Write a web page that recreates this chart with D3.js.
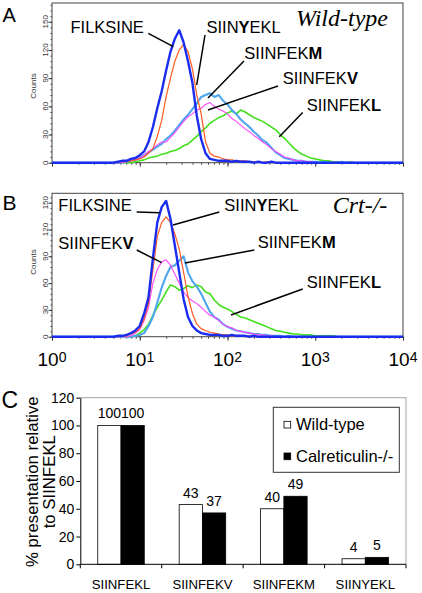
<!DOCTYPE html>
<html><head><meta charset="utf-8">
<script src="https://cdn.jsdelivr.net/npm/d3@7"></script>
<style>body{margin:0;background:#fff}svg{display:block}</style>
</head><body><svg id="c" width="422" height="593"></svg>
<script>
// ---------- DATA ----------
// histogram bin positions (log10 of fluorescence)
const binLog = [0,
 0.5,0.55,0.6,0.65,0.7,0.75,0.8,0.85,0.9,0.95,
 1.0,1.05,1.1,1.15,1.2,1.25,1.3,1.35,1.4,1.45,
 1.5,1.55,1.6,1.65,1.7,1.75,1.8,1.85,1.9,1.95,
 2.0,2.05,2.1,2.15,2.2,2.25,2.3,2.35,2.4,2.45,
 2.5,2.55,2.6,2.65,2.7,2.75,2.8,2.85,2.9,2.95,
 3.0,3.05,3.1,3.15,3.2,3.25,3.3,3.35,3.4,3.45,
 3.5, 4];

// Panel A: wild-type counts
const wtFILKSINE = [0,
 0,0,0,0,0,1,2,2,4,5,
 8,12,22,38,58,76,98,118,132,141,
 128,108,85,50,25,10,4,3,2,2,
 2,1,2,1,1,1,0,1,0,0,
 1,0,0,0,0,0,0,0,0,0,
 0,0,0,0,0,0,0,0,0,0,
 0,0];
const wtSIINYEKL = [0,
 0,0,0,0,0,0,1,1,2,3,
 4,6,10,15,28,45,70,90,108,120,
 126,118,100,72,52,22,10,7,6,4,
 3,3,2,2,2,1,1,1,0,1,
 0,0,0,0,0,0,0,0,0,0,
 0,0,0,0,0,0,0,0,0,0,
 0,0];
const wtSIINFEKM = [0,
 0,0,0,0,0,0,0,1,2,3,
 5,8,11,14,17,20,25,29,34,40,
 46,51,57,63,70,72,74,70,72,66,
 62,56,52,46,42,38,33,29,24,21,
 16,11,8,5,4,3,2,2,1,1,
 1,0,1,0,0,0,1,0,0,0,
 0,0];
const wtSIINFEKV = [0,
 0,0,0,0,0,0,0,1,2,3,
 5,8,12,15,19,22,22,27,32,38,
 44,49,52,56,58,62,64,60,57,55,
 52,47,44,40,36,33,29,26,22,19,
 15,12,9,6,5,3,2,2,1,1,
 0,0,0,0,0,0,0,0,0,0,
 0,0];
const wtSIINFEKL = [0,
 0,0,0,0,0,0,0,0,0,1,
 2,3,5,6,7,9,10,12,13,15,
 18,20,24,28,33,37,42,45,48,50,
 53,55,52,56,54,51,48,46,44,41,
 38,35,30,26,21,16,12,9,7,5,
 4,3,2,2,1,1,1,0,1,0,
 0,0];

// Panel B: Crt-/- counts
const crtFILKSINE = [0,
 0,0,0,0,0,1,1,2,4,7,
 12,26,44,88,128,145,152,132,102,72,
 42,22,12,7,4,3,2,2,2,1,
 1,2,1,1,1,0,1,0,0,0,
 0,0,0,0,0,0,0,0,0,0,
 0,0,0,0,0,0,0,0,0,0,
 0,0];
const crtSIINYEKL = [0,
 0,0,0,0,0,0,1,1,3,5,
 9,20,38,75,112,128,134,128,115,98,
 72,45,26,14,9,7,5,4,3,2,
 2,1,1,1,0,1,0,0,0,0,
 0,0,0,0,0,0,0,0,0,0,
 0,0,0,0,0,0,0,0,0,0,
 0,0];
const crtSIINFEKM = [0,
 0,0,0,0,0,0,0,0,0,1,
 2,4,12,22,38,55,68,78,80,85,
 90,72,62,56,48,38,28,22,19,14,
 11,9,7,6,5,4,3,3,2,2,
 1,1,1,0,1,0,0,0,0,0,
 0,0,0,0,0,0,0,0,0,0,
 0,0];
const crtSIINFEKV = [0,
 0,0,0,0,0,0,0,0,1,4,
 8,18,33,60,75,84,86,80,70,60,
 50,44,40,37,33,28,24,22,18,14,
 11,10,7,6,5,4,3,2,2,1,
 1,0,0,0,0,0,0,0,0,0,
 0,0,0,0,0,0,0,0,0,0,
 0,0];
const crtSIINFEKL = [0,
 0,0,0,0,0,0,0,0,0,1,
 4,8,14,24,33,41,50,58,56,52,
 54,57,55,58,56,50,48,41,36,33,
 31,28,25,22,21,19,17,15,13,11,
 9,7,6,5,4,3,3,2,2,2,
 1,1,1,1,1,0,0,0,0,0,
 0,0];

const countTicks = [0, 30, 60, 90, 120, 150];
const decadeExponents = ["0", "1", "2", "3", "4"];

// Panel C
const barCategories = ["SIINFEKL", "SIINFEKV", "SIINFEKM", "SIINYEKL"];
const barWildType = [100, 43, 40, 4];
const barCalreticulin = [100, 37, 49, 5];
const barSeries = ["Wild-type", "Calreticulin-/-"];
const barTicks = [0, 20, 40, 60, 80, 100, 120];

// ---------- DRAW ----------
const SANS = "'Liberation Sans', Arial, Helvetica, sans-serif";
const SERIF = "'Liberation Serif', 'Times New Roman', serif";
const svg = d3.select("#c");
svg.append("rect").attr("width", 422).attr("height", 593).attr("fill", "#fff");

const colors = {
  SIINFEKL: "#44de1e",
  SIINFEKM: "#4ea6ee",
  SIINFEKV: "#ff45ff",
  SIINYEKL: "#ff5a22",
  FILKSINE: "#1a2cee"
};
const widths = {SIINFEKL: 1.6, SIINFEKM: 2.1, SIINFEKV: 1.1, SIINYEKL: 1.2, FILKSINE: 2.4};
const drawOrder = ["SIINFEKL", "SIINFEKM", "SIINFEKV", "SIINYEKL", "FILKSINE"];

function boldLabel(g, x, y, pre, bold, post) {
  const t = g.append("text").attr("x", x).attr("y", y)
    .attr("font-family", SANS).attr("font-size", 16.5).attr("fill", "#000");
  t.append("tspan").text(pre);
  t.append("tspan").attr("font-weight", "bold").text(bold);
  if (post) t.append("tspan").text(post);
}
function leader(g, x1, y1, x2, y2) {
  g.append("line").attr("x1", x1).attr("y1", y1).attr("x2", x2).attr("y2", y2)
    .attr("stroke", "#000").attr("stroke-width", 1.5);
}

function histPanel(cfg) {
  const x = d3.scaleLog().domain([1, 1e4]).range([52, 403]);
  const y = d3.scaleLinear().domain([0, cfg.yMax]).range([cfg.y0, cfg.yTop]);
  const g = svg.append("g");

  // minor y ticks
  g.append("g").attr("transform", "translate(52,0)")
    .call(d3.axisLeft(y).tickValues(d3.range(0, cfg.yMax, 6)).tickSize(1.5).tickFormat(""))
    .call(s => s.select(".domain").remove())
    .call(s => s.selectAll("line").attr("stroke", "#444"));
  // major y ticks
  g.append("g").attr("transform", "translate(52,0)")
    .call(d3.axisLeft(y).tickValues(countTicks).tickSize(3.5).tickFormat(""))
    .call(s => s.select(".domain").remove())
    .call(s => s.selectAll("line").attr("stroke", "#333"));
  g.selectAll("text.yt").data(countTicks).join("text")
    .attr("transform", d => `translate(48,${y(d)}) rotate(-90)`)
    .attr("text-anchor", "middle").attr("font-family", SANS).attr("font-size", 8)
    .attr("fill", "#333").text(d => d);
  g.append("text").attr("transform", `translate(36,${cfg.countsY}) rotate(-90)`)
    .attr("text-anchor", "middle").attr("font-family", SANS).attr("font-size", 8)
    .attr("fill", "#333").text("Counts");

  // x ticks (log)
  const allTicks = x.ticks();
  const majors = allTicks.filter(v => Math.abs(Math.log10(v) - Math.round(Math.log10(v))) < 1e-9);
  g.append("g").attr("transform", `translate(0,${cfg.y0})`)
    .call(d3.axisBottom(x).tickValues(allTicks).tickSize(2).tickFormat(""))
    .call(s => s.select(".domain").remove())
    .call(s => s.selectAll("line").attr("stroke", "#444"));
  g.append("g").attr("transform", `translate(0,${cfg.y0})`)
    .call(d3.axisBottom(x).tickValues(majors).tickSize(4).tickFormat(""))
    .call(s => s.select(".domain").remove())
    .call(s => s.selectAll("line").attr("stroke", "#333"));

  // frame
  g.append("rect").attr("x", 52).attr("y", cfg.yTop).attr("width", 351)
    .attr("height", cfg.y0 - cfg.yTop).attr("fill", "none").attr("stroke", "#444").attr("stroke-width", 1);

  // curves
  const line = d3.line().x(d => x(Math.pow(10, d[0]))).y(d => y(d[1]));
  drawOrder.forEach(name => {
    const vals = cfg.data[name];
    g.append("path").datum(binLog.map((L, i) => [L, vals[i]]))
      .attr("d", line).attr("fill", "none")
      .attr("stroke", colors[name]).attr("stroke-width", widths[name])
      .attr("stroke-linejoin", "round");
  });

  if (cfg.xLabels) {
    decadeExponents.forEach(e => {
      const t = g.append("text").attr("x", x(Math.pow(10, +e))).attr("y", cfg.y0 + 29.5)
        .attr("text-anchor", "middle").attr("font-family", SANS).attr("font-size", 19).attr("fill", "#000");
      t.append("tspan").text("10");
      t.append("tspan").attr("font-size", 14).attr("dy", -4.5).text(e);
    });
  }
  return g;
}

// Panel A
const gA = histPanel({
  yMax: 170, y0: 162.7, yTop: 3, countsY: 86, xLabels: false,
  data: {FILKSINE: wtFILKSINE, SIINYEKL: wtSIINYEKL, SIINFEKM: wtSIINFEKM, SIINFEKV: wtSIINFEKV, SIINFEKL: wtSIINFEKL}
});
svg.append("text").attr("x", 2.5).attr("y", 22).attr("font-family", SANS).attr("font-size", 20).text("A");
boldLabel(gA, 70.5, 32.6, "FILKSINE", "", "");
leader(gA, 148.3, 33.3, 173.3, 46.7);
boldLabel(gA, 206.5, 32.6, "SIIN", "Y", "EKL");
leader(gA, 205, 35, 196.7, 85);
boldLabel(gA, 244.3, 59.2, "SIINFEK", "M", "");
leader(gA, 244, 61, 208, 98);
boldLabel(gA, 282.7, 84.2, "SIINFEK", "V", "");
leader(gA, 278, 86, 208, 110);
boldLabel(gA, 306.7, 111, "SIINFEK", "L", "");
leader(gA, 302.7, 112.5, 279.3, 136.7);
gA.append("text").attr("x", 296).attr("y", 25.5).attr("font-family", SERIF)
  .attr("font-style", "italic").attr("font-size", 24).text("Wild-type");

// Panel B
const gB = histPanel({
  yMax: 160.5, y0: 336.7, yTop: 193.3, countsY: 262, xLabels: true,
  data: {FILKSINE: crtFILKSINE, SIINYEKL: crtSIINYEKL, SIINFEKM: crtSIINFEKM, SIINFEKV: crtSIINFEKV, SIINFEKL: crtSIINFEKL}
});
svg.append("text").attr("x", 2.5).attr("y", 210).attr("font-family", SANS).attr("font-size", 21).text("B");
boldLabel(gB, 58.3, 211, "FILKSINE", "", "");
leader(gB, 136.7, 212, 160, 212.8);
boldLabel(gB, 224.3, 211, "SIIN", "Y", "EKL");
leader(gB, 219.3, 212, 173, 225);
boldLabel(gB, 58.3, 249.2, "SIINFEK", "V", "");
leader(gB, 136.7, 250, 161.7, 262.7);
boldLabel(gB, 257.7, 247.6, "SIINFEK", "M", "");
leader(gB, 254.3, 250, 185, 263);
boldLabel(gB, 306.7, 287.6, "SIINFEK", "L", "");
leader(gB, 302.7, 289, 231, 315);
gB.append("text").attr("x", 332.7).attr("y", 213.3).attr("font-family", SERIF)
  .attr("font-style", "italic").attr("font-size", 24).text("Crt-/-");

// Panel C
const gC = svg.append("g");
const x0 = d3.scaleBand().domain(barCategories).range([80.3, 406]).paddingInner(0).paddingOuter(0);
const x1 = d3.scaleBand().domain(barSeries).range([0, x0.bandwidth()]).paddingOuter(0.75).paddingInner(0);
const yb = d3.scaleLinear().domain([0, 120]).range([564.3, 397.7]);

gC.append("path").attr("d", `M80.3,${yb(120)}H406V${yb(0)}`).attr("fill", "none")
  .attr("stroke", "#b4b4b4").attr("stroke-width", 1.2);

const barRows = barCategories.map((c, i) => ({cat: c, vals: [barWildType[i], barCalreticulin[i]]}));
const grp = gC.selectAll("g.grp").data(barRows).join("g")
  .attr("transform", d => `translate(${x0(d.cat)},0)`);
grp.selectAll("rect").data(d => d.vals.map((v, j) => ({s: barSeries[j], v})))
  .join("rect")
  .attr("x", d => x1(d.s)).attr("width", x1.bandwidth())
  .attr("y", d => yb(d.v)).attr("height", d => yb(0) - yb(d.v))
  .attr("fill", d => d.s === barSeries[0] ? "#fff" : "#000")
  .attr("stroke", "#000").attr("stroke-width", 0.8);
grp.selectAll("text").data(d => d.vals.map((v, j) => ({s: barSeries[j], v})))
  .join("text")
  .attr("x", d => x1(d.s) + x1.bandwidth() / 2).attr("y", d => yb(d.v) - 7)
  .attr("text-anchor", "middle").attr("font-family", SANS).attr("font-size", 14)
  .text(d => d.v);

// y axis
gC.append("g").attr("transform", "translate(80.3,0)")
  .call(d3.axisLeft(yb).tickValues(barTicks).tickSize(4).tickSizeOuter(0).tickPadding(2))
  .call(s => s.selectAll("text").attr("font-family", SANS).attr("font-size", 14).attr("fill", "#000"))
  .call(s => s.selectAll("line,path").attr("stroke", "#000"));
// x axis
gC.append("line").attr("x1", 80.3).attr("x2", 406).attr("y1", yb(0)).attr("y2", yb(0)).attr("stroke", "#000");
const boundaries = barCategories.map(c => x0(c)).concat([x0.range()[1]]);
gC.selectAll("line.xt").data(boundaries).join("line")
  .attr("x1", d => d).attr("x2", d => d).attr("y1", yb(0)).attr("y2", yb(0) + 4).attr("stroke", "#000");
gC.selectAll("text.xl").data(barCategories).join("text")
  .attr("x", d => x0(d) + x0.bandwidth() / 2).attr("y", 588.5)
  .attr("text-anchor", "middle").attr("font-family", SANS).attr("font-size", 13.2).text(d => d);

// y title
const yt = gC.append("text").attr("transform", "translate(0,481.7) rotate(-90)")
  .attr("text-anchor", "middle").attr("font-family", SANS).attr("font-size", 16.8);
yt.append("tspan").attr("x", 0).attr("y", 38).text("% presentation relative");
yt.append("tspan").attr("x", 0).attr("y", 54.5).text("to SIINFEKL");

svg.append("text").attr("x", 1.5).attr("y", 408).attr("font-family", SANS).attr("font-size", 23).text("C");

// legend
const lg = gC.append("g");
lg.append("rect").attr("x", 273.3).attr("y", 407.3).attr("width", 126).attr("height", 65)
  .attr("fill", "#fff").attr("stroke", "#333").attr("stroke-width", 1);
const legRows = [{s: barSeries[0], y: 430, fill: "#fff"}, {s: barSeries[1], y: 461.7, fill: "#000"}];
legRows.forEach(r => {
  lg.append("rect").attr("x", 284).attr("y", r.y - 8.7).attr("width", 6.7).attr("height", 6.7)
    .attr("fill", r.fill).attr("stroke", "#000").attr("stroke-width", 0.8);
  lg.append("text").attr("x", 296).attr("y", r.y).attr("font-family", SANS).attr("font-size", 16.5).text(r.s);
});
</script>
</body></html>
